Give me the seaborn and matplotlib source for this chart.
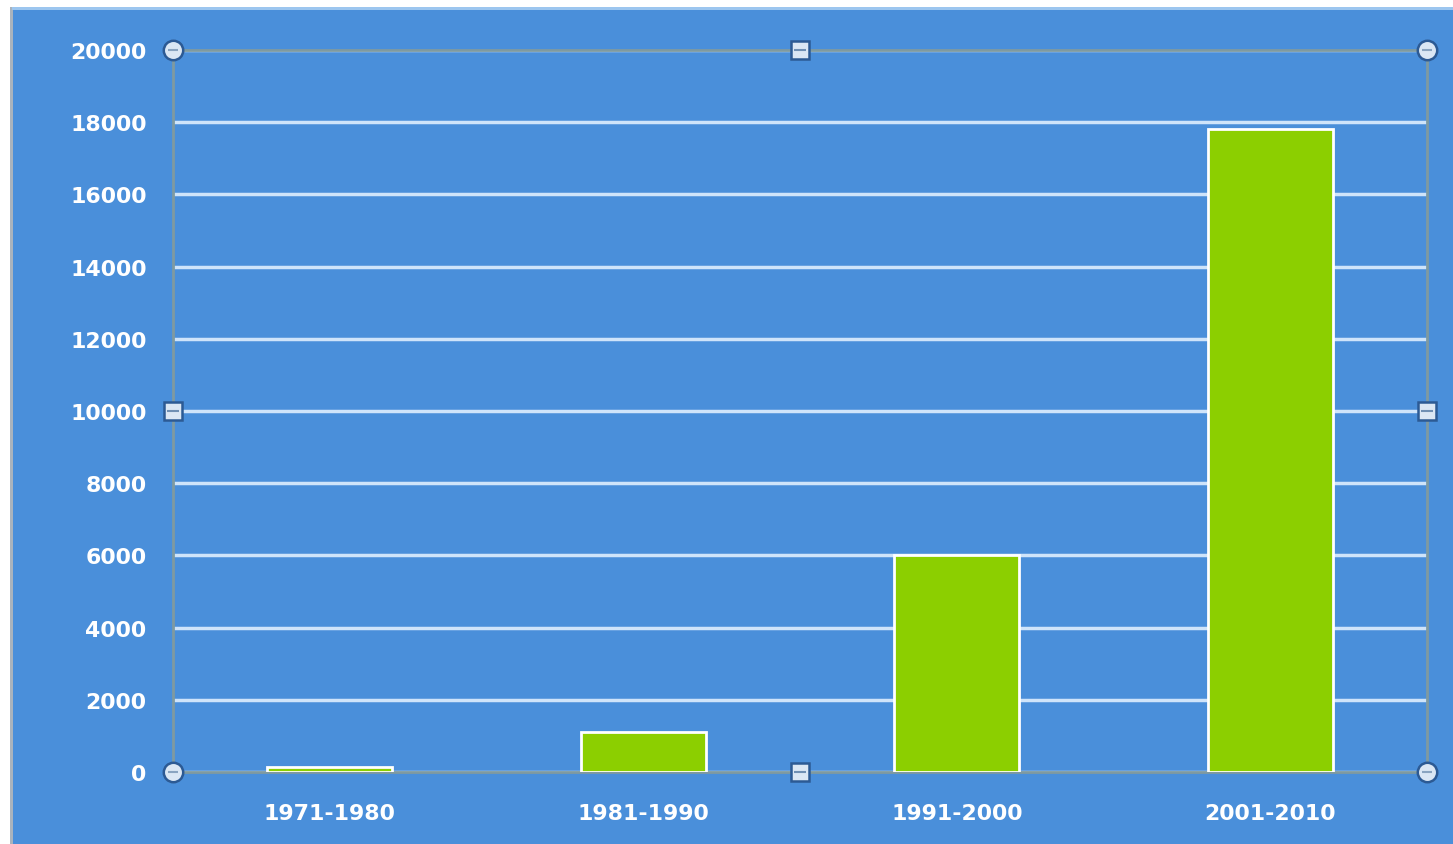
import matplotlib
matplotlib.use("Agg")
import matplotlib.pyplot as plt
import seaborn as sns
import pandas as pd
from matplotlib.patches import Rectangle

# Data
decades = ["1971-1980", "1981-1990", "1991-2000", "2001-2010"]
counts = [150, 1100, 6000, 17800]
y_ticks = list(range(0, 20001, 2000))

BG = "#4a8fda"
BAR = "#8ccf00"
GRID = "#cfe4fa"
AXIS = "#7f9aa0"

sns.set_theme(style="white")
plt.rcParams["font.family"] = ["DejaVu Sans"]

fig = plt.figure(figsize=(14.53, 8.45), dpi=100)
fig.patch.set_facecolor("white")

# Blue panel behind the chart with a thin frame on the left and top
fig.patches.append(Rectangle((12 / 1453, 0), 1 - 12 / 1453, 1 - 8 / 845,
                             transform=fig.transFigure, facecolor=BG,
                             edgecolor="none", zorder=-2))
fig.patches.append(Rectangle((10 / 1453, 0), 3 / 1453, 1 - 8 / 845,
                             transform=fig.transFigure, facecolor="#a9b3bd",
                             edgecolor="none", zorder=-1))
fig.patches.append(Rectangle((12 / 1453, 1 - 11 / 845), 1 - 12 / 1453, 3 / 845,
                             transform=fig.transFigure, facecolor="#9cc6ef",
                             edgecolor="none", zorder=-1))

ax = fig.add_axes([173 / 1453, (845 - 773) / 845,
                   (1427 - 173) / 1453, (773 - 51) / 845])
ax.set_zorder(5)
ax.set_facecolor(BG)

df = pd.DataFrame({"decade": decades, "count": counts})
sns.barplot(data=df, x="decade", y="count", color=BAR, saturation=1,
            width=0.4, edgecolor="white", linewidth=2, ax=ax, zorder=3)

ax.set_xlim(-0.5, len(decades) - 0.5)
ax.set_ylim(0, 20000)
ax.set_yticks(y_ticks)
ax.set_yticklabels([str(v) for v in y_ticks])
ax.set_xlabel("")
ax.set_ylabel("")

ax.set_axisbelow(True)
ax.yaxis.grid(True, color=GRID, linewidth=2.5)
ax.xaxis.grid(False)

for side in ["left", "right", "top", "bottom"]:
    ax.spines[side].set_visible(True)
    ax.spines[side].set_color(AXIS)
    ax.spines[side].set_linewidth(2)

ax.tick_params(axis="both", length=0, colors="white")
ax.tick_params(axis="y", pad=19)
ax.tick_params(axis="x", pad=22)
for lab in ax.get_xticklabels() + ax.get_yticklabels():
    lab.set_fontweight("bold")
    lab.set_fontsize(15.8)
    lab.set_color("white")

# Selection handles at the corners and edge midpoints of the plot frame
corners = [(0, 0), (1, 0), (0, 1), (1, 1)]
mids = [(0.5, 0), (0.5, 1), (0, 0.5), (1, 0.5)]
for x, y in corners:
    ax.plot(x, y, marker="o", markersize=14, markerfacecolor="#dbe7f4",
            markeredgecolor="#2c5a94", markeredgewidth=1.8,
            transform=ax.transAxes, clip_on=False, zorder=10)
    ax.plot(x, y, marker="_", markersize=7, markeredgecolor="#8aa4c0",
            markeredgewidth=1.5, transform=ax.transAxes, clip_on=False, zorder=11)
for x, y in mids:
    ax.plot(x, y, marker="s", markersize=13, markerfacecolor="#dbe7f4",
            markeredgecolor="#2c5a94", markeredgewidth=1.8,
            transform=ax.transAxes, clip_on=False, zorder=10)
    ax.plot(x, y, marker="_", markersize=8, markeredgecolor="#6f8fb3",
            markeredgewidth=1.5, transform=ax.transAxes, clip_on=False, zorder=11)

fig.savefig("out.png", dpi=100, facecolor=fig.get_facecolor())
